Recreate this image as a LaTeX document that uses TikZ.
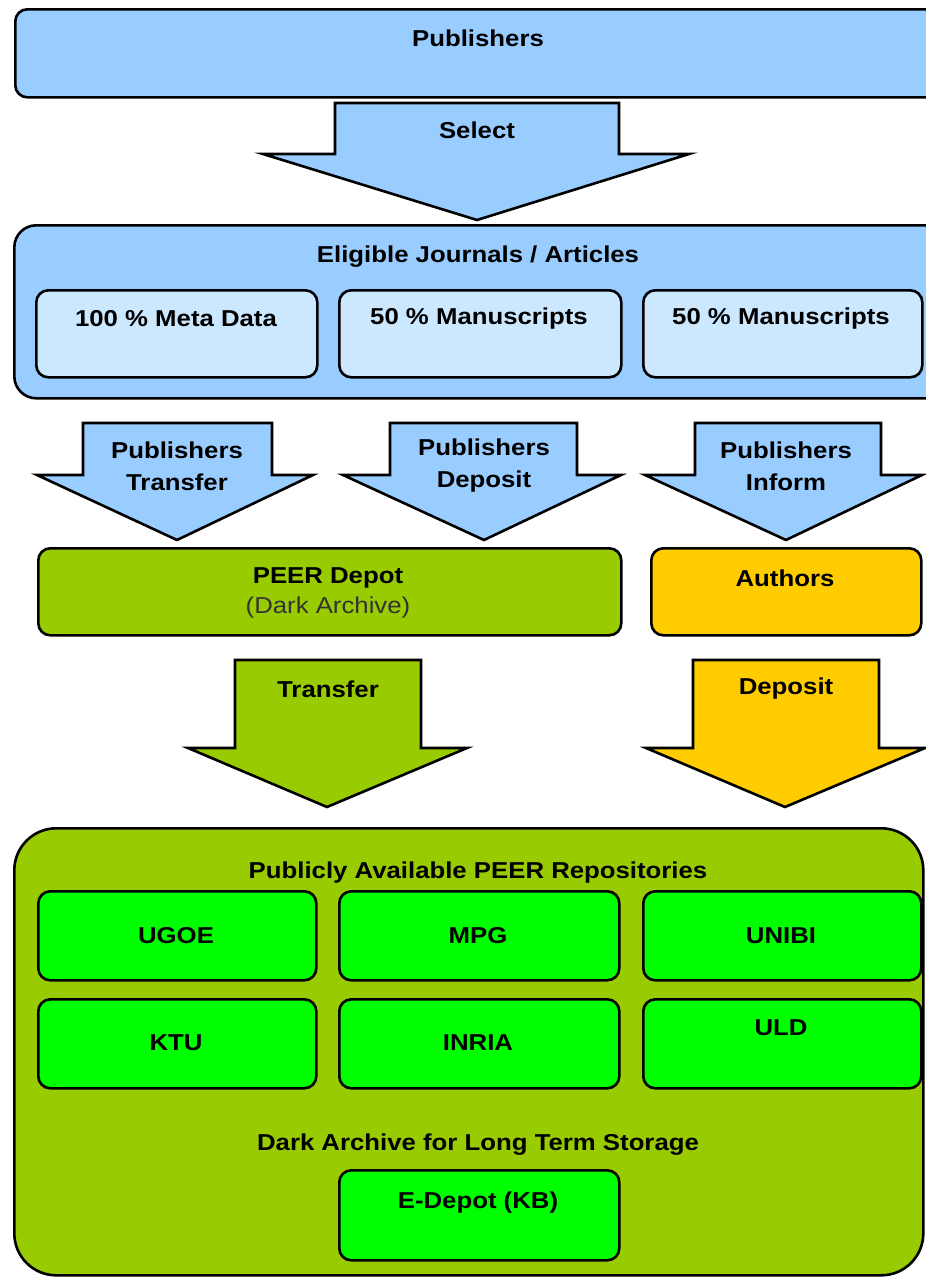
\documentclass[tikz,border=0pt]{standalone}
\usepackage{fontspec}
\setmainfont{Liberation Sans}[FakeStretch=1.12]
\definecolor{lblue}{HTML}{99CCFF}
\definecolor{pblue}{HTML}{CCE8FF}
\definecolor{olive}{HTML}{99CC00}
\definecolor{gold}{HTML}{FFCC00}
\definecolor{bgreen}{HTML}{00FF00}
\definecolor{dgray}{HTML}{333333}
\begin{document}
\begin{tikzpicture}[x=1pt,y=-1pt,
  box/.style={draw=black, line width=2.6pt, rounded corners=12pt, anchor=north west, inner sep=0pt},
  barrow/.style={draw=black, line width=2.6pt, line join=miter},
  lbl/.style={font=\fontsize{23}{32}\selectfont\bfseries, text=black, align=center, inner sep=0pt},
  sub/.style={font=\fontsize{23}{32}\selectfont, text=dgray, inner sep=0pt},
]
\useasboundingbox (0,0) rectangle (926,1277);
\clip (0,0) rectangle (926,1277);

% Publishers
\node[box, fill=lblue, minimum width=960pt, minimum height=88pt] (pub) at (14,8) {};
\node[lbl] (tpub) at (478,38) {Publishers};

% Select arrow
\draw[barrow, fill=lblue] (335,103) -- (619,103) -- (619,154) -- (689,154) -- (477,220) -- (263,154) -- (335,154) -- cycle;
\node[lbl] (tsel) at (477,130) {Select};

% Eligible
\node[box, fill=lblue, rounded corners=22pt, minimum width=960pt, minimum height=173pt] (elig) at (13,224) {};
\node[lbl] (telig) at (478,257) {Eligible Journals / Articles};
\node[box, fill=pblue, minimum width=281pt, minimum height=87pt] (meta) at (35,289) {};
\node[box, fill=pblue, minimum width=282pt, minimum height=87pt] (man1) at (338,289) {};
\node[box, fill=pblue, minimum width=279pt, minimum height=87pt] (man2) at (642,289) {};
\node[lbl] (tmeta) at (176,319) {100 \% Meta Data};
\node[lbl] (tman1) at (479,319) {50 \% Manuscripts};
\node[lbl] (tman2) at (781,319) {50 \% Manuscripts};

% three blue arrows
\draw[barrow, fill=lblue] (83,423) -- (272,423) -- (272,475) -- (313,475) -- (177,540) -- (37,475) -- (83,475) -- cycle;
\draw[barrow, fill=lblue] (390,423) -- (577,423) -- (577,475) -- (621,475) -- (484,540) -- (343,475) -- (390,475) -- cycle;
\draw[barrow, fill=lblue] (695,423) -- (881,423) -- (881,475) -- (922,475) -- (786,540) -- (645,475) -- (695,475) -- cycle;
\node[lbl] (tpt) at (177,466) {Publishers\\Transfer};
\node[lbl] (tpd) at (484,466) {Publishers\\Deposit};
\node[lbl] (tpi) at (786,466) {Publishers\\Inform};

% PEER Depot and Authors
\node[box, fill=olive, minimum width=583pt, minimum height=87pt] (peer) at (37,547) {};
\node[lbl] (tpeer) at (328,578) {PEER Depot};
\node[sub] (tdark) at (328,608) {(Dark Archive)};
\node[box, fill=gold, minimum width=270pt, minimum height=87pt] (auth) at (650,547) {};
\node[lbl] (tauth) at (785,578) {Authors};

% Transfer / Deposit arrows
\draw[barrow, fill=olive] (235,660) -- (421,660) -- (421,748) -- (467,748) -- (327,807) -- (188,748) -- (235,748) -- cycle;
\node[lbl] (ttr) at (328,689) {Transfer};
\draw[barrow, fill=gold] (693,660) -- (879,660) -- (879,748) -- (925,748) -- (785,807) -- (646,748) -- (693,748) -- cycle;
\node[lbl] (tdep) at (786,689) {Deposit};

% Repositories
\node[box, fill=olive, rounded corners=42pt, minimum width=909pt, minimum height=447pt] (repo) at (13,827) {};
\node[lbl] (trepo) at (478,873) {Publicly Available PEER Repositories};
\node[box, fill=bgreen, minimum width=278pt, minimum height=89pt] (ugoe) at (37,890) {};
\node[box, fill=bgreen, minimum width=280pt, minimum height=89pt] (mpg) at (338,890) {};
\node[box, fill=bgreen, minimum width=278pt, minimum height=89pt] (unibi) at (642,890) {};
\node[box, fill=bgreen, minimum width=278pt, minimum height=89pt] (ktu) at (37,998) {};
\node[box, fill=bgreen, minimum width=280pt, minimum height=89pt] (inria) at (338,998) {};
\node[box, fill=bgreen, minimum width=278pt, minimum height=89pt] (uld) at (642,998) {};
\node[lbl] at (176,936) {UGOE};
\node[lbl] at (478,936) {MPG};
\node[lbl] at (781,936) {UNIBI};
\node[lbl] at (176,1043) {KTU};
\node[lbl] at (478,1043) {INRIA};
\node[lbl] at (781,1028) {ULD};
\node[lbl] (tlong) at (478,1145) {Dark Archive for Long Term Storage};
\node[box, fill=bgreen, minimum width=280pt, minimum height=90pt] (edep) at (338,1169) {};
\node[lbl] at (478,1203) {E-Depot (KB)};
\end{tikzpicture}
\end{document}
